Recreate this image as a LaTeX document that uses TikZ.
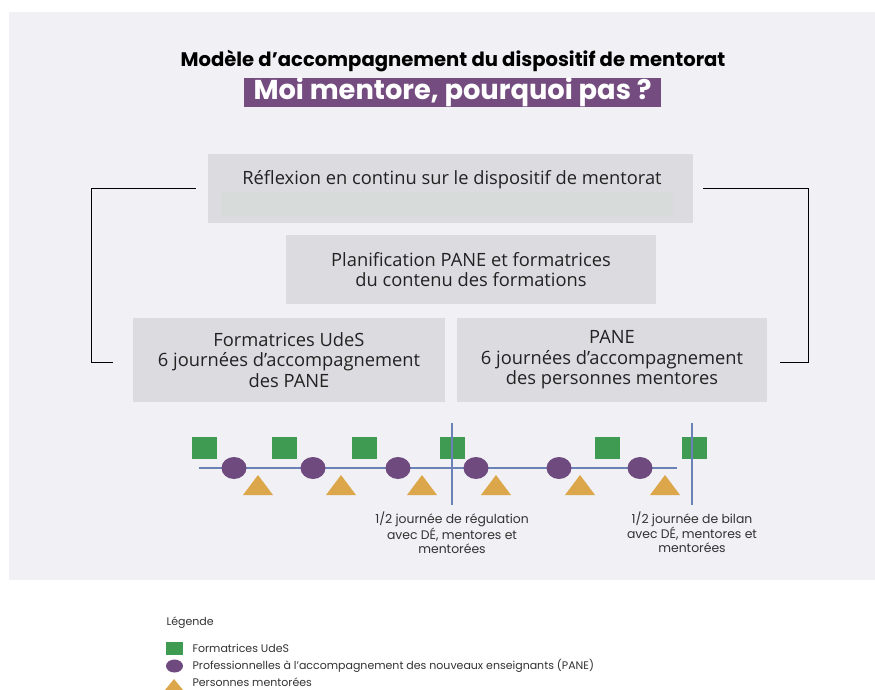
\documentclass[tikz,border=0pt]{standalone}
\usepackage{fontspec}
\setmainfont{Open Sans}
\newfontfamily\headfont{Poppins}
\usetikzlibrary{shapes.geometric, positioning, calc}
\definecolor{panelbg}{HTML}{F0F0F5}
\definecolor{boxbg}{HTML}{DCDCE0}
\definecolor{stripbg}{HTML}{D7DCDB}
\definecolor{bannerbg}{HTML}{744C7F}
\definecolor{txtcolor}{HTML}{222222}
\definecolor{legcolor}{HTML}{333333}
\definecolor{tlblue}{HTML}{6B82B8}
\definecolor{sqgreen}{HTML}{3F9A52}
\definecolor{cipurple}{HTML}{6E4A7E}
\definecolor{trgold}{HTML}{DCA64A}

\begin{document}
\begin{tikzpicture}[x=1pt, y=-1pt, every node/.style={font=\fontsize{18.3}{20.6}\selectfont, text=txtcolor}]
\tikzstyle{box}=[fill=boxbg, inner sep=0pt, align=center]
\tikzstyle{br}=[draw=black, line width=0.8pt]
\tikzstyle{tl}=[draw=tlblue, line width=1.1pt]
\tikzstyle{sq}=[fill=sqgreen, inner sep=0pt, minimum width=25pt, minimum height=22pt]
\tikzstyle{ci}=[fill=cipurple, ellipse, inner sep=0pt, minimum width=25pt, minimum height=22pt]
\tikzstyle{lbl}=[align=center, font=\headfont\fontsize{12.4}{14}\selectfont, text=legcolor]
\tikzstyle{leg}=[anchor=west, font=\headfont\fontsize{11}{12}\selectfont, text=legcolor]

\clip (0,0) rectangle (875,689);
\fill[white] (0,0) rectangle (875,689);
\fill[panelbg] (9,12) rectangle (875,580);

% titre
\node[font=\headfont\bfseries\fontsize{19.6}{22}\selectfont, text=black] (title) at (453,61) {Modèle d’accompagnement du dispositif de mentorat};
\node[fill=bannerbg, text=white, minimum width=417pt, minimum height=29pt, inner sep=0pt, font=\headfont\bfseries\fontsize{27.3}{29}\selectfont] (slogan) at (452.5,92.5) {Moi mentore, pourquoi pas ?};

% boites
\node[box, minimum width=485pt, minimum height=69pt] (refl) at (450.5,188.5) {};
\fill[stripbg] (221,192) rectangle (673,216);
\node (refltxt) at (452,180) {Réflexion en continu sur le dispositif de mentorat};
\node[box, minimum width=370pt, minimum height=69pt] (plan) at (471,269.5) {Planification PANE et formatrices\\du contenu des formations};
\node[box, minimum width=312pt, minimum height=84pt] (form) at (289,360) {Formatrices UdeS\\6 journées d’accompagnement\\des PANE};
\node[box, minimum width=310pt, minimum height=84pt] (pane) at (612,360) {PANE\\6 journées d’accompagnement\\des personnes mentores};

% crochets
\draw[br] ([xshift=-12pt]refl.west) -| (91,362) -- ([xshift=-20pt,yshift=-2pt]form.west);
\draw[br] ([xshift=10pt]refl.east) -| (808,362) -- ([xshift=13pt,yshift=-2pt]pane.east);

% ligne du temps
\coordinate (tlstart) at (199,468);
\coordinate (tlend) at (677,468);
\draw[tl] (tlstart) -- (tlend);
\foreach \x [count=\i] in {204,284,364,452,607,694}
  \node[sq] (sq\i) at (\x,448) {};
\foreach \x [count=\i] in {234,313,398,476,559,640}
  \node[ci] (ci\i) at (\x,468) {};
\foreach \x [count=\i] in {258,341,422,496,580,665}
  \fill[trgold] (\x-15,495) -- (\x+15,495) -- (\x,475) -- cycle;

\coordinate (regtop) at (452,423);
\coordinate (regbot) at (452,505);
\coordinate (biltop) at (692,423);
\coordinate (bilbot) at (692,505);
\draw[tl] (regtop) -- (regbot);
\draw[tl] (biltop) -- (bilbot);
\node[lbl, below=3pt of regbot] (reg) {1/2 journée de régulation\\avec DÉ, mentores et\\mentorées};
\node[lbl, below=3pt of bilbot] (bil) {1/2 journée de bilan\\avec DÉ, mentores et\\mentorées};

% legende
\node[leg] (legtitle) at (163,623) {Légende};
\fill[sqgreen] (166,642) rectangle (183,655);
\node[leg] (leg1) at (189,648) {Formatrices UdeS};
\fill[cipurple] (174.5,666) ellipse (8.5pt and 6.5pt);
\node[leg] (leg2) at (189,665.5) {Professionnelles à l’accompagnement des nouveaux enseignants (PANE)};
\fill[trgold] (165,690) -- (183,690) -- (174,679) -- cycle;
\node[leg] (leg3) at (189,682) {Personnes mentorées};
\end{tikzpicture}
\end{document}
